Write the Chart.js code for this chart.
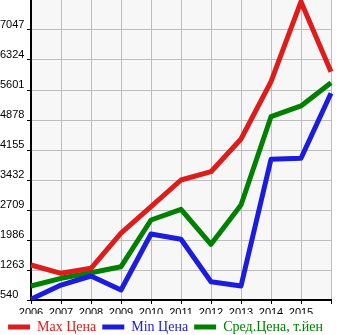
<!DOCTYPE html>
<html>
<head>
<meta charset="utf-8">
<script src="https://cdn.jsdelivr.net/npm/chart.js@4.4.0/dist/chart.umd.min.js"></script>
<style>
  html, body { margin: 0; padding: 0; background: #fff; }
  canvas { display: block; }
</style>
</head>
<body>
<canvas id="priceChart" width="345" height="335"></canvas>
<script>
  // годы выпуска (последняя колонка без подписи)
  const years = ['2006', '2007', '2008', '2009', '2010', '2011', '2012', '2013', '2014', '2015', ''];

  const maxPrice = [1383, 1183, 1304, 2150, 2789, 3432, 3632, 4420, 5801, 7729, 6042];
  const minPrice = [560, 901, 1118, 781, 2131, 2003, 981, 877, 3931, 3955, 5521];
  const avgPrice = [877, 1063, 1198, 1343, 2468, 2726, 1882, 2830, 4958, 5216, 5777];

  const yTicks = [540, 1263, 1986, 2709, 3432, 4155, 4878, 5601, 6324, 7047];
  const yMin = 540;
  const yMax = 7770;

  const seriesNames = ['Max Цена', 'Min Цена', 'Сред.Цена, т.йен'];
  const seriesColors = ['rgb(221, 28, 28)', 'rgb(28, 28, 221)', 'rgb(0, 128, 0)'];

  const line = (label, values, color) => ({
    label: label,
    data: values,
    borderColor: color,
    backgroundColor: color,
    borderWidth: 5,
    borderJoinStyle: 'round',
    pointRadius: 0,
    tension: 0,
    fill: false
  });

  const data = {
    labels: years,
    datasets: [
      line(seriesNames[0], maxPrice, seriesColors[0]),
      line(seriesNames[1], minPrice, seriesColors[1]),
      line(seriesNames[2], avgPrice, seriesColors[2])
    ]
  };

  // светло-серый фон области графика
  const plotBackground = {
    id: 'plotBackground',
    beforeDraw(chart) {
      const { ctx, chartArea: a } = chart;
      ctx.save();
      ctx.fillStyle = '#f7f7f7';
      ctx.fillRect(a.left, a.top, a.right - a.left, a.bottom - a.top);
      ctx.restore();
    }
  };

  const tickFont = { family: '"Liberation Sans", Arial, sans-serif', size: 11 };

  const config = {
    type: 'line',
    data: data,
    options: {
      responsive: false,
      animation: false,
      layout: { padding: { left: 0, top: 0, right: 14, bottom: -9 } },
      plugins: {
        tooltip: { enabled: false },
        legend: {
          position: 'bottom',
          labels: {
            usePointStyle: true,
            pointStyle: 'line',
            pointStyleWidth: 22,
            padding: 6,
            font: { family: '"Liberation Serif", "Times New Roman", serif', size: 14 },
            generateLabels(chart) {
              const items = Chart.defaults.plugins.legend.labels.generateLabels(chart);
              items.forEach((item, i) => {
                item.fontColor = seriesColors[i];
                item.lineCap = 'butt';
                item.lineWidth = 5;
              });
              return items;
            }
          }
        }
      },
      scales: {
        x: {
          grid: { color: '#bdbdbd', lineWidth: 1, tickLength: 4, tickColor: '#000' },
          border: { color: '#000', width: 2 },
          ticks: { color: '#000', font: tickFont, padding: 2, maxRotation: 0, autoSkip: false },
          afterFit(scale) {
            scale.height = 14;
            scale.paddingRight = 0;
          }
        },
        y: {
          min: yMin,
          max: yMax,
          grid: { color: '#bdbdbd', lineWidth: 1, tickLength: 4, tickColor: '#000' },
          border: { color: '#000', width: 2 },
          ticks: {
            color: '#000',
            font: tickFont,
            crossAlign: 'far',
            labelOffset: -5,
            padding: 3,
            callback: v => String(v)
          },
          afterBuildTicks(scale) {
            scale.ticks = yTicks.map(v => ({ value: v }));
          },
          afterFit(scale) {
            scale.width = 31;
            scale.paddingTop = 0;
            scale.paddingBottom = 0;
          }
        }
      }
    },
    plugins: [plotBackground]
  };

  const priceChart = new Chart(document.getElementById('priceChart'), config);
</script>
</body>
</html>
